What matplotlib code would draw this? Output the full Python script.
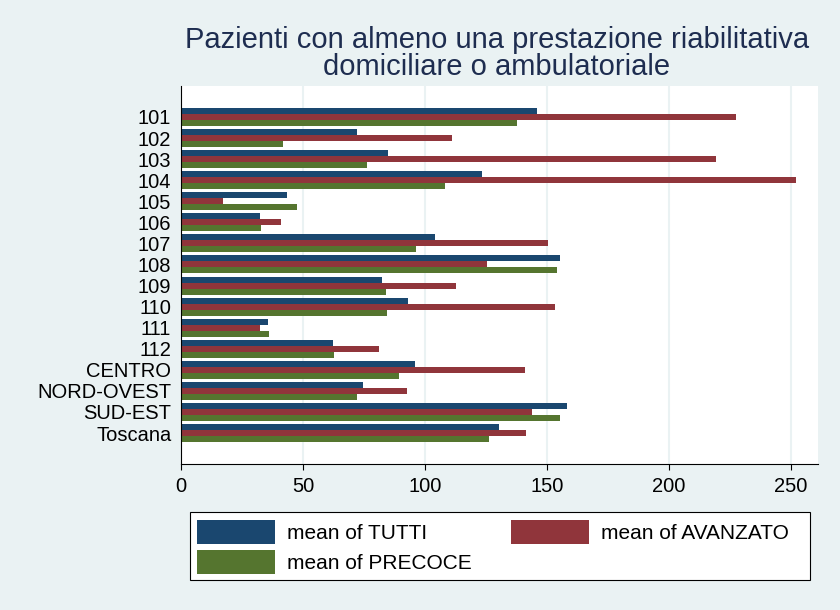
import matplotlib.pyplot as plt
from matplotlib.patches import Rectangle
import numpy as np

plt.rcParams['font.family'] = ['Liberation Sans', 'DejaVu Sans']

# data
categories = ["101", "102", "103", "104", "105", "106", "107", "108", "109",
              "110", "111", "112", "CENTRO", "NORD-OVEST", "SUD-EST", "Toscana"]
tutti = [145.8, 72.0, 84.7, 123.2, 43.3, 32.4, 104.1, 155.3, 82.2,
         92.9, 35.5, 62.2, 95.9, 74.5, 158.1, 130.3]
avanzato = [227.5, 110.9, 219.3, 251.9, 17.1, 40.9, 150.3, 125.3, 112.6,
            153.3, 32.4, 81.0, 141.0, 92.5, 143.7, 141.4]
precoce = [137.6, 41.7, 76.1, 108.1, 47.4, 32.7, 96.2, 154.0, 83.9,
           84.3, 36.1, 62.6, 89.3, 72.0, 155.3, 126.2]
x_ticks = [0, 50, 100, 150, 200, 250]

navy = "#1A476F"
maroon = "#90353B"
green = "#55752F"
bg = "#EAF2F3"

fig = plt.figure(figsize=(8.4, 6.1), dpi=100, facecolor=bg)
ax = fig.add_axes([181/840, 1-464/610, (818-181)/840, (464-86)/610])
ax.set_facecolor("white")

y = np.arange(len(categories))
h = 0.285
b1 = ax.barh(y - h, tutti, height=h, color=navy, label="mean of TUTTI")
b2 = ax.barh(y, avanzato, height=h, color=maroon, label="mean of AVANZATO")
b3 = ax.barh(y + h, precoce, height=h, color=green, label="mean of PRECOCE")

ax.set_ylim(len(categories) - 1 + 1.47, -1.47)
ax.set_xlim(0, 261)
ax.set_xticks(x_ticks)
ax.set_yticks(y)
ax.set_yticklabels(categories)

# gridlines and axis style
ax.grid(axis="x", color=bg, linewidth=1.5)
ax.set_axisbelow(True)
for s in ["top", "right"]:
    ax.spines[s].set_visible(False)
ax.spines["left"].set_color("black")
ax.spines["bottom"].set_color("black")
ax.tick_params(axis="x", direction="out", length=4.5, width=0.8,
               labelsize=14.5, pad=5)
ax.tick_params(axis="y", length=0, labelsize=14.5, pad=7)

fig.text(497/840, 1-40/610, "Pazienti con almeno una prestazione riabilitativa",
         ha="center", va="center", fontsize=21, color="#1E2D50")
fig.text(497/840, 1-67/610, "domiciliare o ambulatoriale",
         ha="center", va="center", fontsize=21, color="#1E2D50")

# legend box drawn separately, entries in row-major order
fig.patches.append(Rectangle((190/840, 1-580/610), 620/840, 68/610,
                             transform=fig.transFigure, facecolor="white",
                             edgecolor="black", linewidth=0.8, zorder=0))
leg = fig.legend([b1, b3, b2],
                 ["mean of TUTTI", "mean of PRECOCE", "mean of AVANZATO"],
                 loc="upper left", bbox_to_anchor=(197/840, 1-520/610),
                 ncol=2, fontsize=15, frameon=False,
                 handlelength=3.75, handleheight=1.38, handletextpad=0.58,
                 borderaxespad=0, labelspacing=0.3, borderpad=0,
                 columnspacing=1.85)

plt.savefig("out.png", dpi=100, facecolor=bg)
